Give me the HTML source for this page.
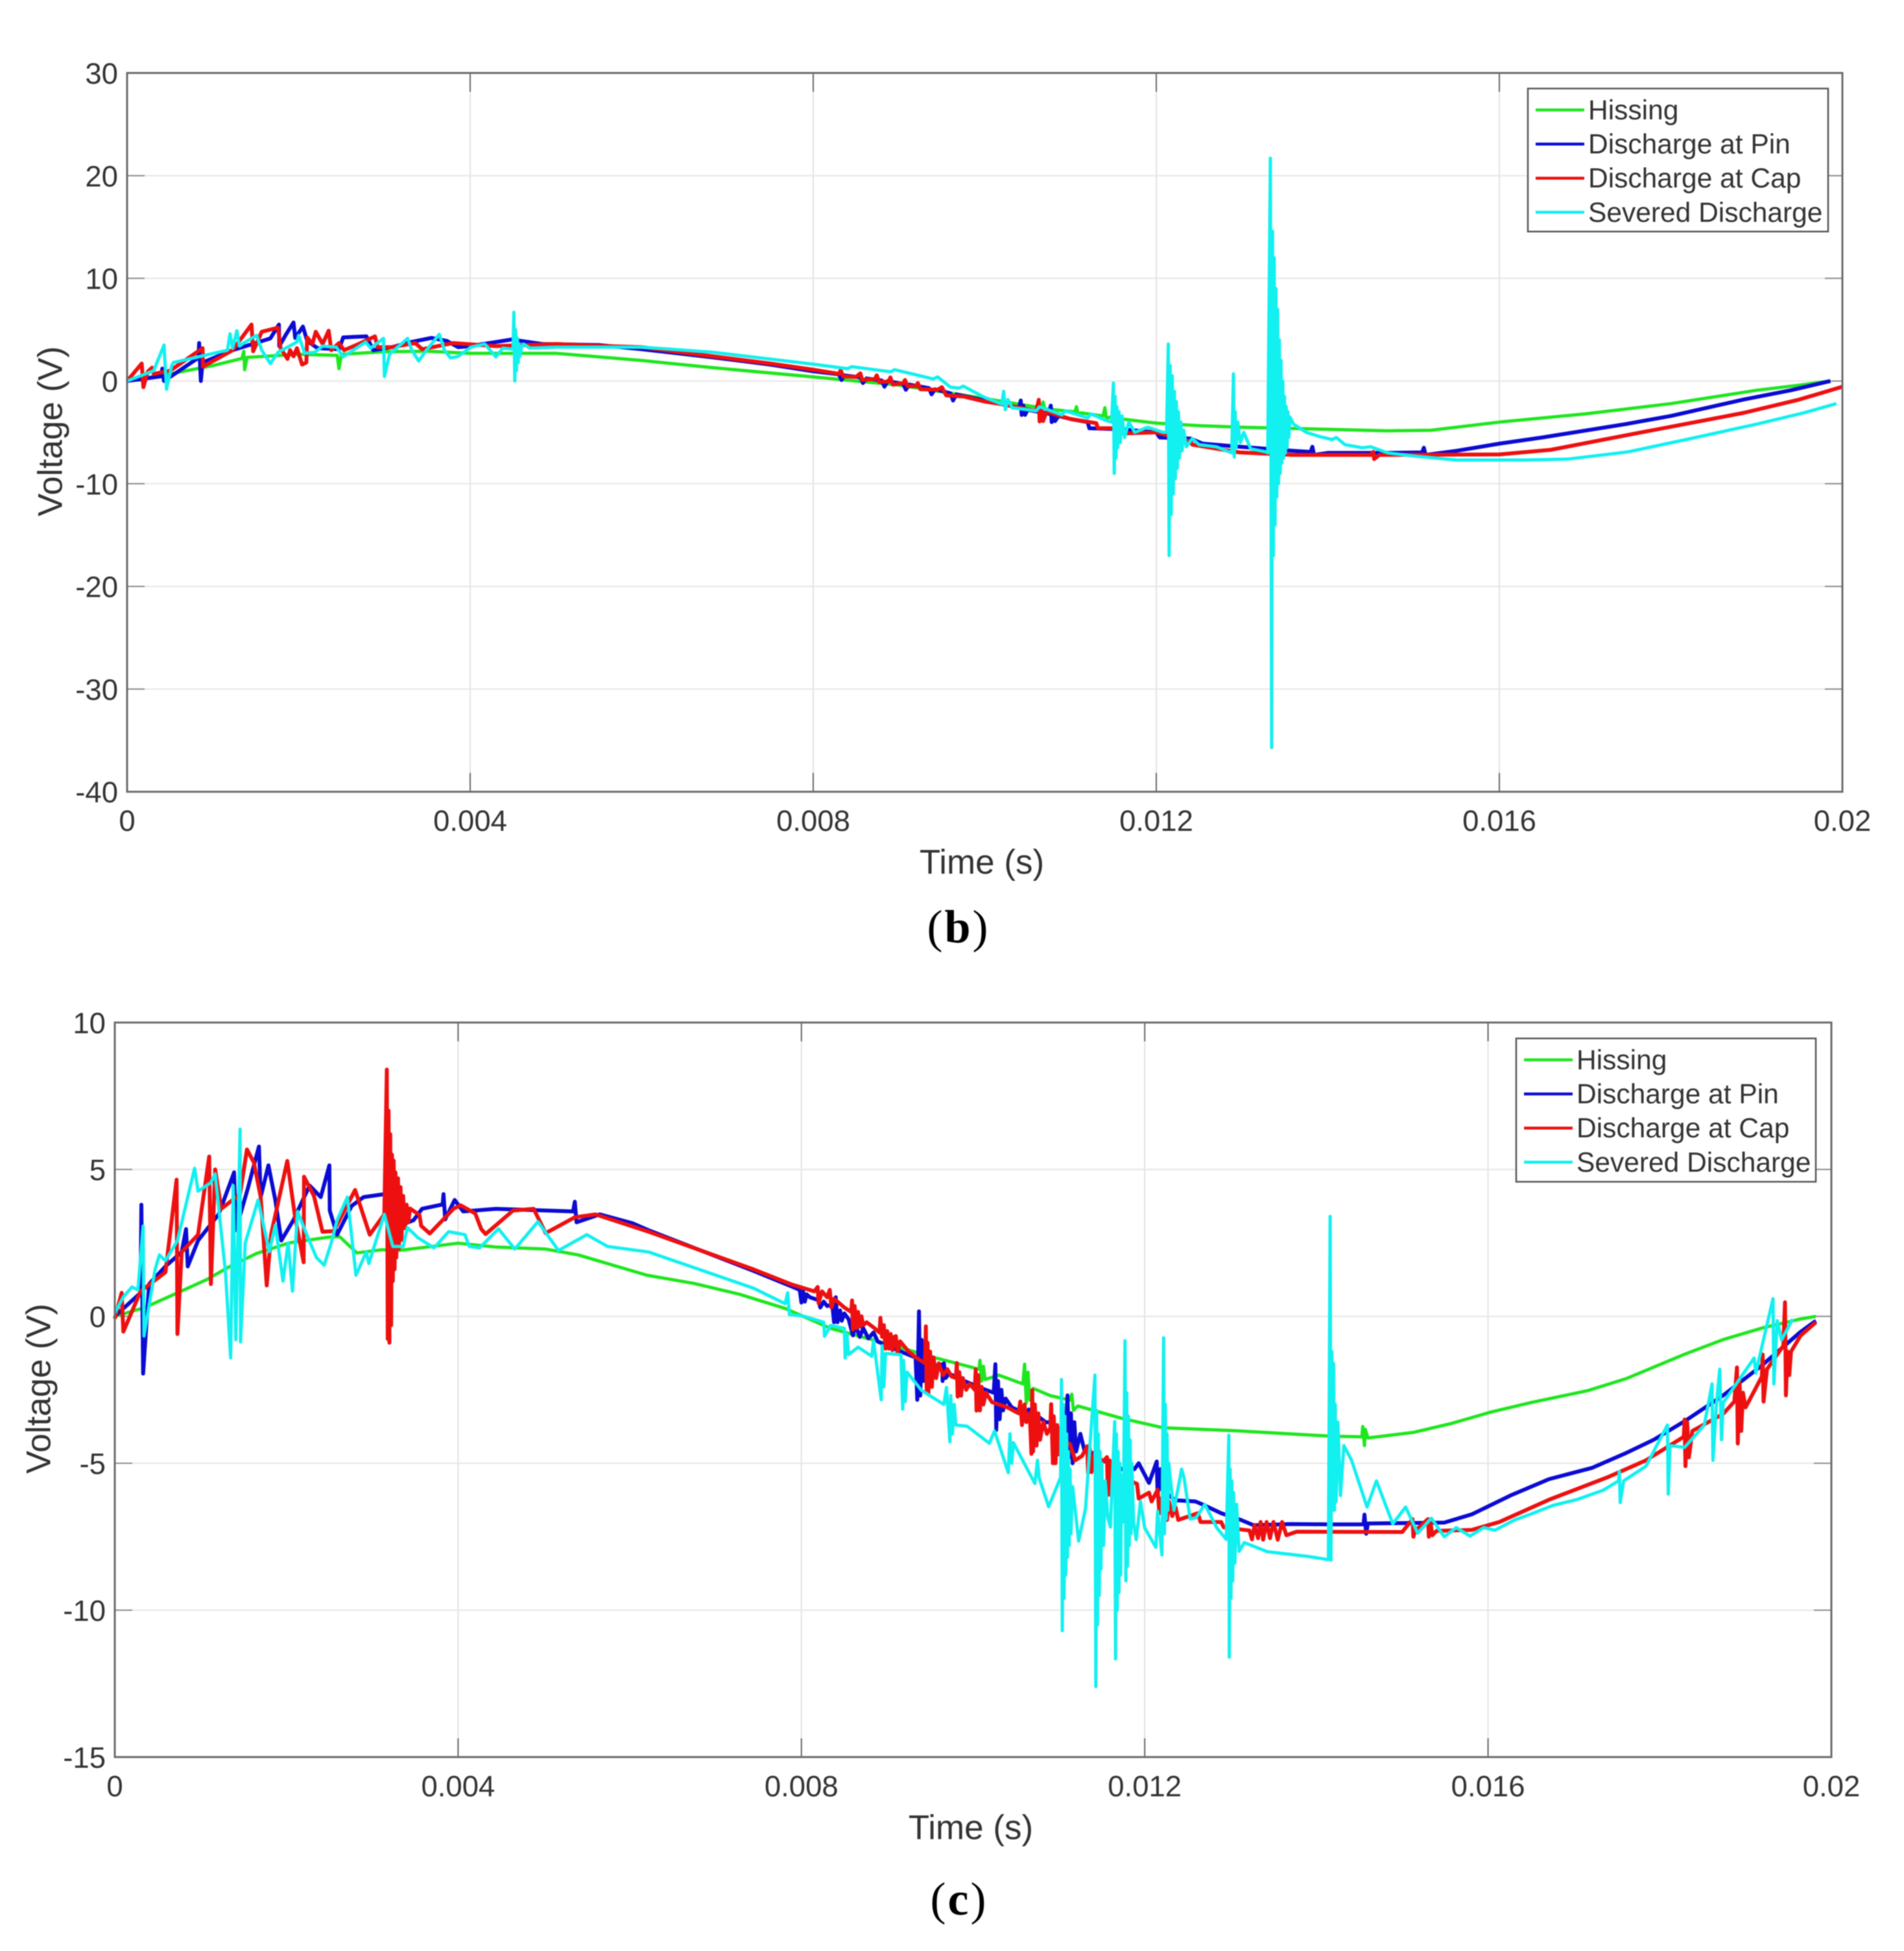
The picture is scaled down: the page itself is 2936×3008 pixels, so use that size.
<!DOCTYPE html>
<html>
<head>
<meta charset="utf-8">
<title>Voltage vs time charts</title>
<style>
html,body{margin:0;padding:0;background:#fff;}
svg{display:block;filter:blur(0.8px);}
text{font-family:"Liberation Sans",sans-serif;fill:#333;}
.cap{font-family:"Liberation Serif",serif;fill:#000;}
</style>
</head>
<body>
<svg id="root" xmlns="http://www.w3.org/2000/svg" width="2936" height="3008" viewBox="0 0 2936 3008">
<rect width="2936" height="3008" fill="#fff"/>
<g id="chartB"></g>
<g id="chartC"></g>
<text class="cap" x="1478" y="1429" font-size="72" letter-spacing="3" text-anchor="middle" dominant-baseline="central">(<tspan font-weight="bold" class="cap">b</tspan>)</text>
<text class="cap" x="1479" y="2928" font-size="72" letter-spacing="3" text-anchor="middle" dominant-baseline="central">(<tspan font-weight="bold" class="cap">c</tspan>)</text>
</svg>
<script>
// Shared axis labels
const xTickValues = [0, 0.004, 0.008, 0.012, 0.016, 0.02];
const xTickLabels = ['0', '0.004', '0.008', '0.012', '0.016', '0.02'];
const legendLabels = ['Hissing', 'Discharge at Pin', 'Discharge at Cap', 'Severed Discharge'];

// Y ticks
const bYTicks = [30, 20, 10, 0, -10, -20, -30, -40];
const cYTicks = [10, 5, 0, -5, -10, -15];

// Chart (b) series: [time in ms, volts]
const bHissing = [[0,0],[.5,.7],[1,1.5],[1.34,2.2],[1.36,2.9],[1.37,1.1],[1.4,2.3],[2,2.6],[2.45,2.5],[2.47,1.2],[2.5,2.6],[3,2.85],[3.5,2.9],[4,2.7],[5,2.7],[6,2],[6.83,1.3],[8,.4],[9,-.4],[10,-1.7],[10.5,-2.4],[10.66,-2.6],[10.68,-2.05],[10.7,-2.7],[11.05,-3],[11.07,-2.5],[11.09,-3.3],[11.12,-3.1],[11.38,-3.4],[11.4,-2.6],[11.42,-3.7],[11.46,-3.5],[11.6,-3.7],[12,-4.1],[12.5,-4.35],[13,-4.5],[13.5,-4.6],[14,-4.7],[14.7,-4.85],[15.2,-4.8],[16,-4],[17,-3.2],[18,-2.2],[19,-.9],[19.5,-.4],[19.85,0]];

const bPin = [[0,0],[.4,.46],[.41,1.2],[.43,0],[.83,2.25],[.84,3.7],[.86,0],[.88,1.8],[1.23,3],[1.67,4.15],[1.77,5.5],[1.775,3.4],[1.85,4.5],[1.94,5.7],[1.96,4.2],[2.05,5.3],[2.1,3.9],[2.22,3.2],[2.47,3.1],[2.52,4.25],[2.65,4.3],[2.79,4.35],[2.87,3],[3.09,3.3],[3.33,3.83],[3.55,4.2],[3.73,3.9],[3.86,3.3],[4,3.4],[4.48,4.04],[4.84,3.6],[5.5,3.5],[6,3.1],[6.83,2.3],[7.5,1.6],[8,.95],[8.3,.65],[8.33,.1],[8.36,.55],[8.55,.35],[8.58,-.2],[8.62,.25],[8.8,.05],[8.83,-.55],[8.87,0],[9.05,-.3],[9.08,-.85],[9.12,-.35],[9.35,-.7],[9.38,-1.3],[9.42,-.8],[9.6,-1.2],[9.63,-1.9],[9.67,-1.3],[10,-1.9],[10.2,-2.25],[10.4,-2.6],[10.42,-1.9],[10.43,-3.3],[10.45,-2.4],[10.47,-3.3],[10.5,-2.8],[10.75,-3.2],[10.77,-2.4],[10.78,-4],[10.8,-3.1],[10.82,-3.9],[10.86,-3.4],[11,-3.7],[11.2,-4],[11.22,-4.6],[11.6,-4.7],[12,-5],[12.04,-5.5],[12.4,-5.6],[12.54,-6.1],[12.97,-6.4],[13.6,-6.8],[13.8,-6.9],[13.82,-6.4],[13.84,-7.2],[14,-7],[14.7,-7],[15.1,-6.95],[15.12,-6.5],[15.14,-7.2],[15.5,-6.8],[16,-6.1],[16.5,-5.5],[17.47,-4.2],[18,-3.4],[18.85,-1.8],[19.4,-.9],[19.86,0]];

const bCap = [[0,0],[.17,1.7],[.19,-.6],[.24,.9],[.29,1.3],[.31,.7],[.5,1],[.88,3.2],[.885,1.4],[1.23,3],[1.45,5.5],[1.47,2.9],[1.57,4.8],[1.76,5.2],[1.79,3.2],[1.87,2.15],[1.9,3],[1.94,2.4],[1.98,3.2],[2.04,1.6],[2.09,1.8],[2.1,4.25],[2.16,3.6],[2.2,4.8],[2.28,3.6],[2.35,4.9],[2.38,3],[2.47,3.7],[2.53,3],[2.7,3.6],[2.89,4.35],[2.92,3.3],[3.09,3.3],[3.36,3.7],[3.44,3.1],[3.8,3.7],[3.95,3.6],[4.3,3.4],[5,3.6],[5.6,3.4],[6,3.3],[6.83,2.4],[7.5,1.7],[8,1.1],[8.3,.7],[8.32,1.05],[8.35,.45],[8.5,.4],[8.55,.75],[8.57,.1],[8.72,.2],[8.74,.55],[8.77,-.1],[8.88,-.05],[8.9,.35],[8.93,-.35],[9.05,-.2],[9.07,.1],[9.1,-.5],[9.2,-.5],[9.22,-.2],[9.25,-.8],[9.45,-.85],[9.5,-.6],[9.55,-1.4],[9.75,-1.5],[10,-2],[10.2,-2.25],[10.4,-2.6],[10.6,-2.9],[10.63,-1.83],[10.64,-3.94],[10.66,-2.6],[10.68,-3.9],[10.72,-3],[11,-3.7],[11.3,-4.1],[11.32,-4.6],[11.6,-4.6],[11.62,-5.1],[12,-5],[12.4,-5.9],[12.42,-6.2],[12.97,-6.95],[13.6,-7.2],[14.5,-7.2],[14.53,-6.9],[14.54,-7.6],[14.6,-7.2],[16,-7.15],[16.6,-6.7],[17.47,-5.3],[18.85,-3.1],[19.5,-1.8],[20,-.55]];

const bSevered = [[0,0],[.31,1],[.43,3.5],[.46,-.8],[.52,1.5],[.54,1.8],[1.17,3],[1.2,4.6],[1.23,3.2],[1.28,4.9],[1.31,3.4],[1.36,3.7],[1.51,4.45],[1.57,3],[1.67,1.7],[1.76,2.8],[1.98,3.8],[2,4.45],[2.07,2.7],[2.19,2.8],[2.28,3.4],[2.44,3.3],[2.52,2.35],[2.78,3.8],[2.84,3.2],[2.99,4.15],[3,.45],[3.06,2.6],[3.27,4.15],[3.32,3],[3.4,1.95],[3.49,3],[3.64,4.55],[3.7,3],[3.77,2.25],[3.86,2.4],[4.01,3.3],[4.17,3.6],[4.3,2.35],[4.38,3.2],[4.5,3.1],[4.51,6.7],[4.52,0],[4.53,5],[4.54,1],[4.55,4.2],[4.56,1.8],[4.57,3.6],[4.58,2.4],[4.6,3.3],[4.62,3.6],[4.7,3.2],[5,3.3],[6,3.3],[6.83,2.8],[8,1.64],[8.4,1.2],[8.45,1.4],[8.9,.9],[8.95,1.1],[9.4,.2],[9.45,.4],[9.6,-.6],[9.7,-.7],[9.75,-.5],[10,-1.6],[10.2,-2.25],[10.22,-1],[10.24,-2.8],[10.27,-1.8],[10.32,-2.6],[10.6,-2.9],[10.64,-2.5],[10.9,-3.3],[10.94,-2.9],[11.2,-3.6],[11.24,-3.2],[11.4,-3.8],[11.48,-4],[11.5,-.2],[11.51,-9],[11.52,-1.5],[11.53,-7.5],[11.54,-2.5],[11.55,-6.5],[11.565,-3],[11.58,-6],[11.6,-3.4],[11.63,-5.5],[11.68,-4],[11.75,-5],[11.9,-4.5],[12.08,-5],[12.12,-5],[12.14,3.6],[12.15,-17],[12.162,1.5],[12.174,-13],[12.186,.5],[12.198,-11],[12.21,-1],[12.222,-9.5],[12.234,-2],[12.246,-8.5],[12.258,-3],[12.27,-7.5],[12.285,-4],[12.3,-6.8],[12.32,-4.8],[12.35,-6.4],[12.42,-5.6],[12.5,-6.2],[12.7,-6.4],[12.88,-7],[12.9,.7],[12.91,-7.4],[12.92,-3],[12.93,-6.5],[12.95,-4],[12.98,-6],[13.02,-5],[13.1,-6.6],[13.28,-6.9],[13.3,-7],[13.33,21.7],[13.345,-35.7],[13.355,14.6],[13.365,-17],[13.375,12],[13.385,-14],[13.395,9],[13.405,-11.3],[13.415,7],[13.425,-10],[13.435,4],[13.445,-9],[13.455,2],[13.465,-8],[13.475,0],[13.485,-7.5],[13.495,-1.5],[13.505,-7],[13.515,-2.5],[13.525,-6.5],[13.535,-3],[13.545,-5.5],[13.56,-3.5],[13.6,-4.2],[13.75,-5],[13.9,-5.4],[14.05,-5.7],[14.1,-5.5],[14.2,-6.2],[14.4,-6.5],[14.5,-6.4],[14.7,-7],[15,-7.3],[15.5,-7.7],[16.3,-7.7],[16.8,-7.6],[17.5,-6.9],[18.15,-5.75],[19,-4.2],[19.55,-3.1],[19.93,-2.2]];

// Chart (c) series: [time in ms, volts]
const cHissing = [[0,0],[.35,.3],[.73,.8],[1.07,1.25],[1.31,1.65],[1.65,2.14],[2.03,2.5],[2.5,2.7],[2.62,2.71],[2.82,2.16],[3.12,2.27],[3.27,2.23],[3.7,2.38],[4,2.49],[4.44,2.36],[5.02,2.29],[5.4,2.09],[6.2,1.4],[6.75,1.12],[7.28,.75],[7.81,.27],[8.34,-.41],[8.87,-.83],[9.56,-1.41],[10.07,-1.8],[10.08,-1.5],[10.1,-2.2],[10.12,-1.7],[10.14,-2.15],[10.3,-2],[10.58,-2.3],[10.6,-1.63],[10.62,-2.95],[10.64,-1.9],[10.66,-2.85],[10.7,-2.45],[10.9,-2.7],[11.13,-2.85],[11.15,-2.65],[11.17,-3.2],[11.22,-3.05],[11.73,-3.47],[12.21,-3.79],[13.11,-3.9],[14.17,-4.08],[14.53,-4.1],[14.54,-3.75],[14.56,-4.4],[14.57,-3.85],[14.6,-4.14],[15.13,-3.95],[15.58,-3.64],[16.03,-3.26],[16.49,-2.94],[17.16,-2.53],[17.61,-2.12],[18.29,-1.29],[18.74,-.79],[19.19,-.4],[19.64,-.09],[19.82,0]];

const cPin = [[0,0],[.3,.8],[.31,3.8],[.33,-1.95],[.4,1.1],[.59,1.7],[.78,2.19],[.83,2.97],[.85,1.7],[.97,2.58],[1.21,3.47],[1.39,4.9],[1.41,2.93],[1.55,4.35],[1.68,5.78],[1.7,4.06],[1.79,5.14],[1.87,3.96],[1.94,2.58],[2.08,3.27],[2.27,4.45],[2.4,4.06],[2.5,5.14],[2.505,3.6],[2.59,2.78],[2.76,3.76],[2.9,4.06],[3.14,4.16],[3.31,3.07],[3.48,3.27],[3.58,3.66],[3.82,3.81],[3.83,4.16],[3.85,3.3],[3.96,3.96],[4.06,3.57],[4.44,3.66],[5.34,3.57],[5.36,3.9],[5.38,3.2],[5.65,3.47],[6.03,3.17],[6.22,2.93],[7.44,1.55],[7.9,1],[7.98,.9],[8,.47],[8.02,.85],[8.04,.5],[8.06,.75],[8.1,.65],[8.2,.55],[8.22,.3],[8.26,.5],[8.3,.35],[8.36,.4],[8.38,-.2],[8.4,.65],[8.42,-.2],[8.45,.2],[8.47,-.15],[8.5,.1],[8.55,-.1],[8.6,-.65],[8.63,-.3],[8.68,-.7],[8.72,-.4],[8.78,-.75],[8.84,-.55],[8.89,-.86],[9,-1],[9.2,-1.25],[9.33,-1.4],[9.35,-2.84],[9.37,.17],[9.385,-2.7],[9.4,-.8],[9.42,-2.2],[9.45,-1.4],[9.5,-1.6],[9.6,-1.7],[9.64,-1.63],[9.645,-2.2],[9.66,-1.6],[9.68,-2.1],[9.72,-1.95],[9.9,-2.2],[10.1,-2.45],[10.24,-2.6],[10.26,-1.63],[10.27,-3.87],[10.29,-2.2],[10.31,-3.5],[10.33,-2.5],[10.35,-3.2],[10.38,-2.8],[10.45,-3.1],[10.6,-3.3],[10.65,-3.17],[10.85,-3.61],[10.9,-3.6],[11.08,-4],[11.1,-2.69],[11.12,-4.8],[11.14,-3.3],[11.16,-5],[11.18,-3.6],[11.2,-4.6],[11.25,-4],[11.3,-4.6],[11.38,-4.64],[11.5,-4.9],[11.6,-5],[11.71,-5.23],[11.8,-5.1],[11.88,-5.2],[11.93,-5],[12.05,-5.67],[12.14,-4.94],[12.15,-6.1],[12.18,-5.2],[12.2,-5.9],[12.26,-6.04],[12.36,-6.26],[12.59,-6.3],[12.67,-6.4],[12.89,-6.7],[13.12,-6.93],[13.27,-7.11],[13.7,-7.07],[14.2,-7.08],[14.55,-7.08],[14.56,-6.75],[14.58,-7.4],[14.6,-7.05],[15.49,-7.02],[15.81,-6.74],[16.26,-6.1],[16.71,-5.54],[17.21,-5.16],[17.61,-4.65],[17.93,-4.2],[18.29,-3.57],[18.74,-2.69],[19.19,-1.67],[19.64,-.53],[19.82,-.15]];

const cCap = [[0,-.08],[.08,.8],[.1,-.52],[.3,.85],[.59,1.5],[.72,4.65],[.73,-.6],[.78,2.19],[.97,2.78],[1.1,5.44],[1.12,1.1],[1.17,5],[1.24,3.66],[1.46,4.16],[1.54,5.68],[1.62,5.24],[1.7,4.06],[1.77,1.05],[1.82,2.78],[2.01,5.29],[2.1,3.4],[2.2,1.84],[2.205,4.75],[2.32,4.1],[2.42,2.88],[2.55,2.9],[2.8,4.3],[2.97,2.78],[3.14,3.47],[3.17,8.4],[3.18,-.77],[3.19,7],[3.2,-.9],[3.21,6.2],[3.22,-.3],[3.23,5.5],[3.24,1.2],[3.25,5.3],[3.26,1.6],[3.27,4.9],[3.28,2],[3.3,4.7],[3.31,2.3],[3.33,4.4],[3.34,2.6],[3.36,4.1],[3.38,3],[3.4,3.8],[3.42,3.2],[3.44,3.67],[3.55,3.45],[3.57,3.08],[3.67,2.82],[3.95,3.67],[4.03,3.78],[4.2,3.5],[4.27,2.97],[4.32,2.8],[4.64,3.6],[4.88,3.66],[5.02,2.83],[5.36,3.37],[5.6,3.47],[6.22,2.88],[7.44,1.6],[7.88,1.09],[8.15,.85],[8.19,1],[8.2,.45],[8.24,.85],[8.3,.65],[8.33,.9],[8.35,.3],[8.38,.6],[8.5,.3],[8.58,.15],[8.59,.54],[8.6,-.45],[8.62,.35],[8.64,-.4],[8.66,.15],[8.68,-.35],[8.7,0],[8.72,-.3],[8.76,-.2],[8.85,-.4],[8.91,-.55],[8.92,-.05],[8.94,-.7],[8.96,-.3],[8.98,-1.1],[9,-.5],[9.02,-1.1],[9.04,-.6],[9.06,-1.15],[9.08,-.7],[9.1,-.67],[9.12,-1.26],[9.15,-.85],[9.25,-1.2],[9.34,-1.41],[9.44,-1.6],[9.45,-.34],[9.46,-2.58],[9.47,-.9],[9.48,-2.6],[9.5,-1.2],[9.52,-2.4],[9.54,-1.4],[9.57,-2.1],[9.6,-1.6],[9.65,-2],[9.7,-1.8],[9.75,-2.05],[9.8,-2.1],[9.81,-1.59],[9.82,-2.73],[9.84,-1.9],[9.86,-2.7],[9.88,-2.1],[9.92,-2.5],[9.96,-2.3],[10.02,-2.5],[10.03,-1.81],[10.04,-3.21],[10.06,-2],[10.08,-3.2],[10.1,-2.4],[10.12,-3],[10.15,-2.6],[10.22,-2.92],[10.4,-3.1],[10.53,-3.3],[10.55,-2.9],[10.57,-3.7],[10.6,-3],[10.62,-3.6],[10.66,-3.3],[10.68,-4.68],[10.69,-2.51],[10.7,-4.6],[10.72,-3],[10.74,-4.4],[10.76,-3.3],[10.78,-4.2],[10.82,-3.6],[10.86,-4],[10.9,-3.8],[10.91,-2.99],[10.93,-5],[10.94,-3.4],[10.96,-5],[10.98,-3.7],[11,-4.7],[11.04,-4.2],[11.13,-4.35],[11.19,-4.9],[11.27,-4.75],[11.33,-4.42],[11.34,-5.34],[11.36,-4.5],[11.38,-5.3],[11.42,-4.6],[11.51,-4.95],[11.56,-4.79],[11.57,-6.08],[11.59,-4.9],[11.61,-6.1],[11.63,-5],[11.65,-6],[11.68,-5.2],[11.72,-5.6],[11.8,-5.2],[11.81,-6.52],[11.83,-5.6],[11.91,-5.7],[11.93,-6.2],[12.05,-6],[12.08,-6.3],[12.15,-5.9],[12.17,-6.7],[12.19,-6.2],[12.21,-6.7],[12.24,-6.1],[12.26,-6.93],[12.28,-6.3],[12.32,-6.8],[12.36,-6.5],[12.39,-6.93],[12.62,-6.7],[12.65,-7],[12.89,-7],[12.92,-7.18],[13.22,-7.29],[13.25,-7.59],[13.28,-7.1],[13.32,-7.55],[13.35,-7],[13.38,-7.6],[13.42,-7],[13.46,-7.55],[13.5,-7],[13.55,-7.6],[13.6,-7],[13.65,-7.45],[13.77,-7.33],[15,-7.34],[15.12,-6.9],[15.13,-7.5],[15.15,-7.3],[15.3,-6.9],[15.31,-7.5],[15.33,-7],[15.35,-7.45],[15.4,-7.3],[15.81,-7.27],[16.13,-7],[16.71,-6.24],[17.39,-5.48],[17.84,-4.9],[18.28,-4.1],[18.29,-3.51],[18.3,-5.1],[18.32,-3.6],[18.34,-4.8],[18.38,-3.9],[18.74,-3.32],[18.87,-2.9],[18.9,-1.74],[18.91,-4.33],[18.93,-2.2],[18.95,-3.9],[18.97,-2.6],[19,-3.1],[19.19,-2.05],[19.2,-1.3],[19.21,-2.9],[19.25,-1.8],[19.44,-1],[19.46,.48],[19.47,-2.69],[19.49,-1.2],[19.51,-2],[19.53,-1.2],[19.64,-.66],[19.82,-.2]];

const cSevered = [[0,.12],[.1,.66],[.2,1],[.27,.9],[.33,3.07],[.34,-.67],[.47,1.6],[.52,2.09],[.59,1.89],[.73,2.58],[.93,5.04],[.97,4.26],[1.12,4.55],[1.17,4.85],[1.29,1.5],[1.35,-1.41],[1.38,4.45],[1.41,-.8],[1.46,6.37],[1.465,-.87],[1.52,2.5],[1.67,3.96],[1.8,2.2],[1.87,3.1],[1.96,1.2],[2.02,2.5],[2.07,.86],[2.13,3.57],[2.22,2.9],[2.35,2],[2.44,1.74],[2.52,2.48],[2.59,3.27],[2.71,4.06],[2.81,1.4],[2.93,2.19],[2.96,1.8],[3.14,3.47],[3.24,2.38],[3.36,2.38],[3.41,3.02],[3.53,2.68],[3.72,2.33],[3.89,2.88],[4.08,2.78],[4.13,2.38],[4.25,2.33],[4.47,2.98],[4.66,2.29],[4.93,3.22],[5.17,2.24],[5.5,2.78],[5.74,2.38],[6.22,2.19],[7.44,.96],[7.81,.43],[7.84,.8],[7.86,.06],[8.02,.01],[8.26,-.2],[8.27,-.68],[8.34,-.31],[8.5,-.41],[8.51,-1.42],[8.53,-.6],[8.55,-1.3],[8.66,-1.05],[8.82,-1.36],[8.84,-.83],[8.93,-2.84],[8.94,-1],[8.96,-2.4],[8.98,-1.26],[9.16,-1.31],[9.18,-3.16],[9.19,-1.5],[9.21,-2.9],[9.23,-1.9],[9.4,-2.52],[9.66,-3],[9.69,-2.42],[9.73,-4.27],[9.74,-2.7],[9.76,-4],[9.78,-3],[9.8,-3.7],[9.93,-3.74],[10.19,-4.32],[10.25,-3.9],[10.41,-5.32],[10.43,-4],[10.45,-5],[10.47,-4.3],[10.72,-5.69],[10.75,-4.9],[10.77,-5.5],[10.88,-6.48],[11.02,-5.48],[11.03,-2.15],[11.04,-10.7],[11.05,-3],[11.06,-9.6],[11.07,-3.4],[11.08,-8.8],[11.09,-4],[11.1,-8.2],[11.11,-4.6],[11.12,-7.8],[11.13,-5.2],[11.14,-7.4],[11.16,-5.8],[11.19,-6.6],[11.23,-7.65],[11.31,-6.54],[11.42,-2],[11.43,-12.6],[11.44,-3.2],[11.45,-10.5],[11.46,-4],[11.47,-9.5],[11.48,-4.6],[11.49,-8.6],[11.5,-5],[11.52,-7.8],[11.54,-5.6],[11.57,-6.85],[11.6,-7.17],[11.65,-3.58],[11.66,-11.66],[11.67,-4],[11.68,-10],[11.69,-4.6],[11.7,-9.4],[11.71,-5],[11.72,-8.8],[11.73,-5.4],[11.75,-7],[11.77,-.83],[11.78,-9],[11.79,-2.6],[11.8,-8.5],[11.81,-3.4],[11.82,-7.8],[11.83,-4.2],[11.84,-7.4],[11.85,-5],[11.87,-7],[11.9,-7.6],[11.95,-6.3],[12,-7.2],[12.13,-7.86],[12.15,-6.64],[12.2,-8.12],[12.22,-.73],[12.23,-7.4],[12.24,-3],[12.25,-6.9],[12.26,-4],[12.27,-6.6],[12.28,-5],[12.3,-5.59],[12.34,-6.6],[12.43,-5.2],[12.46,-5.53],[12.53,-6.9],[12.6,-6.85],[12.7,-6.4],[12.84,-7.2],[12.95,-7.59],[12.98,-4.05],[12.985,-11.6],[12.995,-5.2],[13.005,-9.6],[13.015,-5.6],[13.025,-9],[13.035,-6],[13.05,-8.4],[13.07,-6.4],[13.1,-8],[13.16,-7.7],[13.43,-8.01],[13.9,-8.17],[14.14,-8.28],[14.16,3.4],[14.17,-8.3],[14.18,-1.2],[14.19,-6.6],[14.2,-1.6],[14.21,-6.6],[14.22,-3],[14.23,-6.3],[14.25,-3.6],[14.28,-6.1],[14.32,-4.4],[14.41,-4.9],[14.59,-6.49],[14.7,-5.6],[14.89,-7.06],[15.04,-6.49],[15.18,-7.38],[15.34,-6.87],[15.49,-7.5],[15.63,-7.19],[15.79,-7.48],[15.95,-7.19],[16.08,-7.28],[16.31,-6.93],[16.49,-6.74],[16.76,-6.43],[17.03,-6.24],[17.34,-5.92],[17.52,-5.6],[17.53,-5.28],[17.54,-6.34],[17.58,-5.6],[17.84,-5.1],[18.09,-3.7],[18.1,-6.05],[18.12,-4.4],[18.29,-4.46],[18.52,-3.7],[18.61,-2.3],[18.62,-4.9],[18.66,-3],[18.7,-1.8],[18.72,-4.2],[18.74,-2.94],[19.1,-1.42],[19.12,-1.93],[19.32,.6],[19.33,-2.3],[19.37,-.15],[19.42,-.8],[19.55,-.09]];

const seriesColors = ['#1fe61f', '#0b0bd4', '#ee1010', '#12f0f0'];
const seriesStrokes = [5, 6, 6, 5];

const SVG_NS = 'http://www.w3.org/2000/svg';

function mk(tag, parent) {
  const el = document.createElementNS(SVG_NS, tag);
  parent.appendChild(el);
  return el;
}

function set(el, attrs) {
  for (const k in attrs) el.setAttribute(k, attrs[k]);
  return el;
}

function drawChart(host, box, yDomain, yTicks, series, legendBox, labelPos, prefix) {
  const x = (sec) => box.left + (sec - 0) / 0.02 * (box.right - box.left);
  const y = (v) => box.top + (yDomain[1] - v) / (yDomain[1] - yDomain[0]) * (box.bottom - box.top);

  // grid lines
  xTickValues.forEach((t, i) => {
    if (i === 0 || i === xTickValues.length - 1) return;
    const g = mk('line', host);
    
    
    set(g, {x1: x(t), x2: x(t), y1: box.top, y2: box.bottom, stroke: '#e2e2e2', 'stroke-width': 2});
  });
  yTicks.forEach((v) => {
    if (v === yDomain[0] || v === yDomain[1]) return;
    const g = mk('line', host);
    
    
    set(g, {x1: box.left, x2: box.right, y1: y(v), y2: y(v), stroke: '#e6e6e6', 'stroke-width': 2});
  });

  // ticks on all four sides
  xTickValues.forEach((t, i) => {
    if (i === 0 || i === xTickValues.length - 1) return;
    const a = mk('line', host);
    
    
    set(a, {x1: x(t), x2: x(t), y1: box.bottom, y2: box.bottom - 29, stroke: '#666', 'stroke-width': 2});
    const b = mk('line', host);
    
    
    set(b, {x1: x(t), x2: x(t), y1: box.top, y2: box.top + 29, stroke: '#666', 'stroke-width': 2});
  });
  yTicks.forEach((v) => {
    if (v === yDomain[0] || v === yDomain[1]) return;
    const a = mk('line', host);
    
    
    set(a, {x1: box.left, x2: box.left + 27, y1: y(v), y2: y(v), stroke: '#8a8a8a', 'stroke-width': 2});
    const b = mk('line', host);
    
    
    set(b, {x1: box.right, x2: box.right - 27, y1: y(v), y2: y(v), stroke: '#8a8a8a', 'stroke-width': 2});
  });

  // series
  series.forEach((s, i) => {
    const d = s.map((pt, k) => (k ? 'L' : 'M') + x(pt[0] / 1000).toFixed(1) + ' ' + y(pt[1]).toFixed(1)).join('');
    const p = mk('path', host);
    
    
    set(p, {d: d, fill: 'none', stroke: seriesColors[i], 'stroke-width': seriesStrokes[i], 'stroke-linejoin': 'round'});
  });

  // frame
  const f = mk('rect', host);
  
  
  set(f, {x: box.left, y: box.top, width: box.right - box.left, height: box.bottom - box.top, fill: 'none', stroke: '#6a6a6a', 'stroke-width': 3});

  // tick labels
  xTickValues.forEach((t, i) => {
    const l = mk('text', host);
    
    
    set(l, {x: x(t), y: box.bottom + 45, 'font-size': 45.5, 'text-anchor': 'middle', 'dominant-baseline': 'central'});
    l.textContent = xTickLabels[i];
  });
  yTicks.forEach((v) => {
    const l = mk('text', host);
    
    
    set(l, {x: box.left - 14, y: y(v) + 1, 'font-size': 45.5, 'text-anchor': 'end', 'dominant-baseline': 'central'});
    l.textContent = String(v);
  });

  // axis titles
  const xt = mk('text', host);
  
  
  set(xt, {x: labelPos.xTitleX, y: box.bottom + 109, 'font-size': 53, 'text-anchor': 'middle', 'dominant-baseline': 'central'});
  xt.textContent = 'Time (s)';
  const yt = mk('text', host);
  
  
  set(yt, {transform: 'translate(' + labelPos.yTitleX + ' ' + labelPos.yTitleY + ') rotate(-90)', 'font-size': 53, 'text-anchor': 'middle', 'dominant-baseline': 'central'});
  yt.textContent = 'Voltage (V)';

  // legend
  const lg = mk('g', host);
  
  
  const r = mk('rect', lg);
  
  
  set(r, {x: legendBox.x, y: legendBox.y, width: legendBox.w, height: legendBox.h, fill: '#fff', stroke: '#555', 'stroke-width': 2.5});
  legendLabels.forEach((name, i) => {
    const cy = legendBox.y + 33 + i * 52.6;
    const ln = mk('line', lg);
    
    
    set(ln, {x1: legendBox.x + 12, x2: legendBox.x + 87, y1: cy, y2: cy, stroke: seriesColors[i], 'stroke-width': 4.5});
    const tx = mk('text', lg);
    
    
    set(tx, {x: legendBox.x + 93, y: cy + 1, 'font-size': 42.5, 'dominant-baseline': 'central', fill: '#222'});
    tx.textContent = name;
  });
}

drawChart(
  document.getElementById('chartB'),
  {left: 196, right: 2841, top: 112.5, bottom: 1220.7},
  [-40, 30], bYTicks,
  [bHissing, bPin, bCap, bSevered],
  {x: 2356, y: 136.5, w: 463, h: 220.5},
  {xTitleX: 1514, yTitleX: 78, yTitleY: 665},
  'b'
);
drawChart(
  document.getElementById('chartC'),
  {left: 177, right: 2824, top: 1576.5, bottom: 2709},
  [-15, 10], cYTicks,
  [cHissing, cPin, cCap, cSevered],
  {x: 2338, y: 1601, w: 462, h: 221},
  {xTitleX: 1497, yTitleX: 60, yTitleY: 2141},
  'c'
);
</script>
</body>
</html>
